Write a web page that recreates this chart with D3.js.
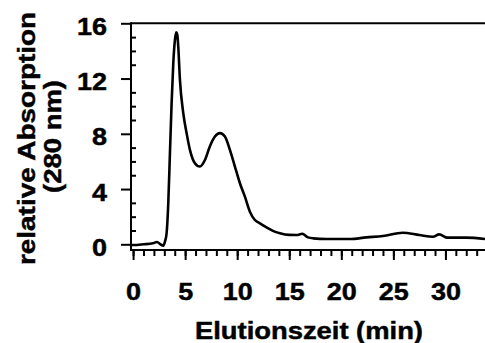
<!DOCTYPE html>
<html>
<head>
<meta charset="utf-8">
<script src="https://cdn.jsdelivr.net/npm/d3@7"></script>
<style>
  html, body { margin: 0; padding: 0; background: #fff; }
  svg { display: block; }
  text { font-family: "Liberation Sans", Arial, sans-serif; font-weight: bold; fill: #000;
         stroke: #000; stroke-width: 0.45px; }
</style>
</head>
<body>
<svg id="chart" width="485" height="343"></svg>
<script>
// Elution profile: time (min) and relative absorbance at 280 nm
const timeMin = [-0.15, 0.0, 1.0, 1.9, 2.3, 2.6, 2.9, 3.08, 3.22, 3.38, 3.54, 3.7, 3.86, 4.02, 4.14, 4.24,
  4.34, 4.5, 4.82, 5.14, 5.46, 5.94, 6.42, 6.9, 7.38, 7.86, 8.34, 8.82, 9.3, 9.78, 10.26, 10.74,
  11.22, 11.7, 12.18, 12.98, 13.6, 14.1, 15.0, 15.7, 16.25, 16.8, 17.3, 18.6, 20.8, 22.4, 24.0, 25.9,
  27.5, 28.8, 29.4, 30.2, 32.0, 33.8];
const absorbance = [-0.05, -0.05, 0.0, 0.07, 0.17, 0.02, -0.1, 0.25, 0.8, 2.97, 6.6, 10.2, 13.1, 14.8, 15.35, 15.2,
  14.3, 11.9, 9.5, 8.05, 6.84, 5.87, 5.63, 6.1, 7.1, 7.8, 8.05, 7.8, 6.84, 5.63, 4.42, 3.45,
  2.36, 1.76, 1.52, 1.16, 0.92, 0.8, 0.68, 0.67, 0.76, 0.5, 0.43, 0.38, 0.38, 0.5, 0.6, 0.84,
  0.67, 0.55, 0.72, 0.48, 0.48, 0.38];

const xMajorTicks = [0, 5, 10, 15, 20, 25, 30];
const xMinorTicks = d3.range(0, 34);
const yMajorTicks = [0, 4, 8, 12, 16];
const yMinorTicks = d3.range(1, 16).filter(v => v % 4 !== 0);

const xTitle = "Elutionszeit (min)";
const yTitleLines = ["relative Absorption", "(280 nm)"];

const svg = d3.select("#chart");

const left = 131, right = 485, axisY = 250;
const x = d3.scaleLinear().domain([-0.2, 33.8]).range([left, right]);
const y = d3.scaleLinear().domain([0, 16]).range([244.3, 23.3]);

const sx = 1.125; // horizontal glyph stretch of the label face

// x axis: minor ticks, then major ticks with labels
const gxMinor = svg.append("g").attr("transform", `translate(0,${axisY})`)
  .call(d3.axisBottom(x).tickValues(xMinorTicks).tickSize(6).tickFormat(""));
const gxMajor = svg.append("g").attr("transform", `translate(0,${axisY})`)
  .call(d3.axisBottom(x).tickValues(xMajorTicks).tickSize(10).tickFormat(d3.format("d")));
[gxMinor, gxMajor].forEach(g => {
  g.select(".domain").remove();
  g.selectAll("line").attr("stroke", "#000").attr("stroke-width", 2);
});
gxMajor.selectAll("text")
  .attr("y", null).attr("dy", null)
  .attr("transform", `translate(0,49.5) scale(${sx},1)`)
  .attr("text-anchor", "middle")
  .style("font-size", "24px");

// y axis: outward major ticks with labels, inward minor ticks
const gyMajor = svg.append("g").attr("transform", `translate(${left},0)`)
  .call(d3.axisLeft(y).tickValues(yMajorTicks).tickSize(10).tickFormat(d3.format("d")));
const gyMinor = svg.append("g").attr("transform", `translate(${left},0)`)
  .call(d3.axisRight(y).tickValues(yMinorTicks).tickSize(5).tickFormat(""));
[gyMajor, gyMinor].forEach(g => {
  g.select(".domain").remove();
  g.selectAll("line").attr("stroke", "#000").attr("stroke-width", 2);
});
gyMajor.selectAll("text")
  .attr("x", null).attr("dy", null)
  .attr("transform", `translate(-24,11) scale(${sx},1)`)
  .attr("text-anchor", "end")
  .style("font-size", "24px");

// frame: left axis, bottom axis, top edge at y = 16
svg.append("line").attr("x1", left).attr("x2", left).attr("y1", y(16) - 1).attr("y2", axisY + 1)
  .attr("stroke", "#000").attr("stroke-width", 2);
svg.append("line").attr("x1", left).attr("x2", right).attr("y1", axisY).attr("y2", axisY)
  .attr("stroke", "#000").attr("stroke-width", 2);
svg.append("line").attr("x1", left).attr("x2", right).attr("y1", y(16)).attr("y2", y(16))
  .attr("stroke", "#000").attr("stroke-width", 2);

// chromatogram trace
const line = d3.line()
  .x(d => x(d[0]))
  .y(d => y(d[1]))
  .curve(d3.curveMonotoneX);
svg.append("path")
  .datum(d3.zip(timeMin, absorbance))
  .attr("d", line)
  .attr("fill", "none")
  .attr("stroke", "#000")
  .attr("stroke-width", 2.6)
  .attr("stroke-linejoin", "round");

// axis titles
svg.append("text")
  .attr("x", 309).attr("y", 339)
  .attr("text-anchor", "middle")
  .attr("textLength", 228).attr("lengthAdjust", "spacingAndGlyphs")
  .style("font-size", "23px")
  .text(xTitle);

const yTitle = svg.append("g");
yTitle.append("text")
  .attr("transform", "translate(35,138.5) rotate(-90)")
  .attr("text-anchor", "middle")
  .attr("textLength", 253).attr("lengthAdjust", "spacingAndGlyphs")
  .style("font-size", "24px")
  .text(yTitleLines[0]);
yTitle.append("text")
  .attr("transform", "translate(61,136.5) rotate(-90)")
  .attr("text-anchor", "middle")
  .attr("textLength", 113).attr("lengthAdjust", "spacingAndGlyphs")
  .style("font-size", "24px")
  .text(yTitleLines[1]);
</script>
</body>
</html>
